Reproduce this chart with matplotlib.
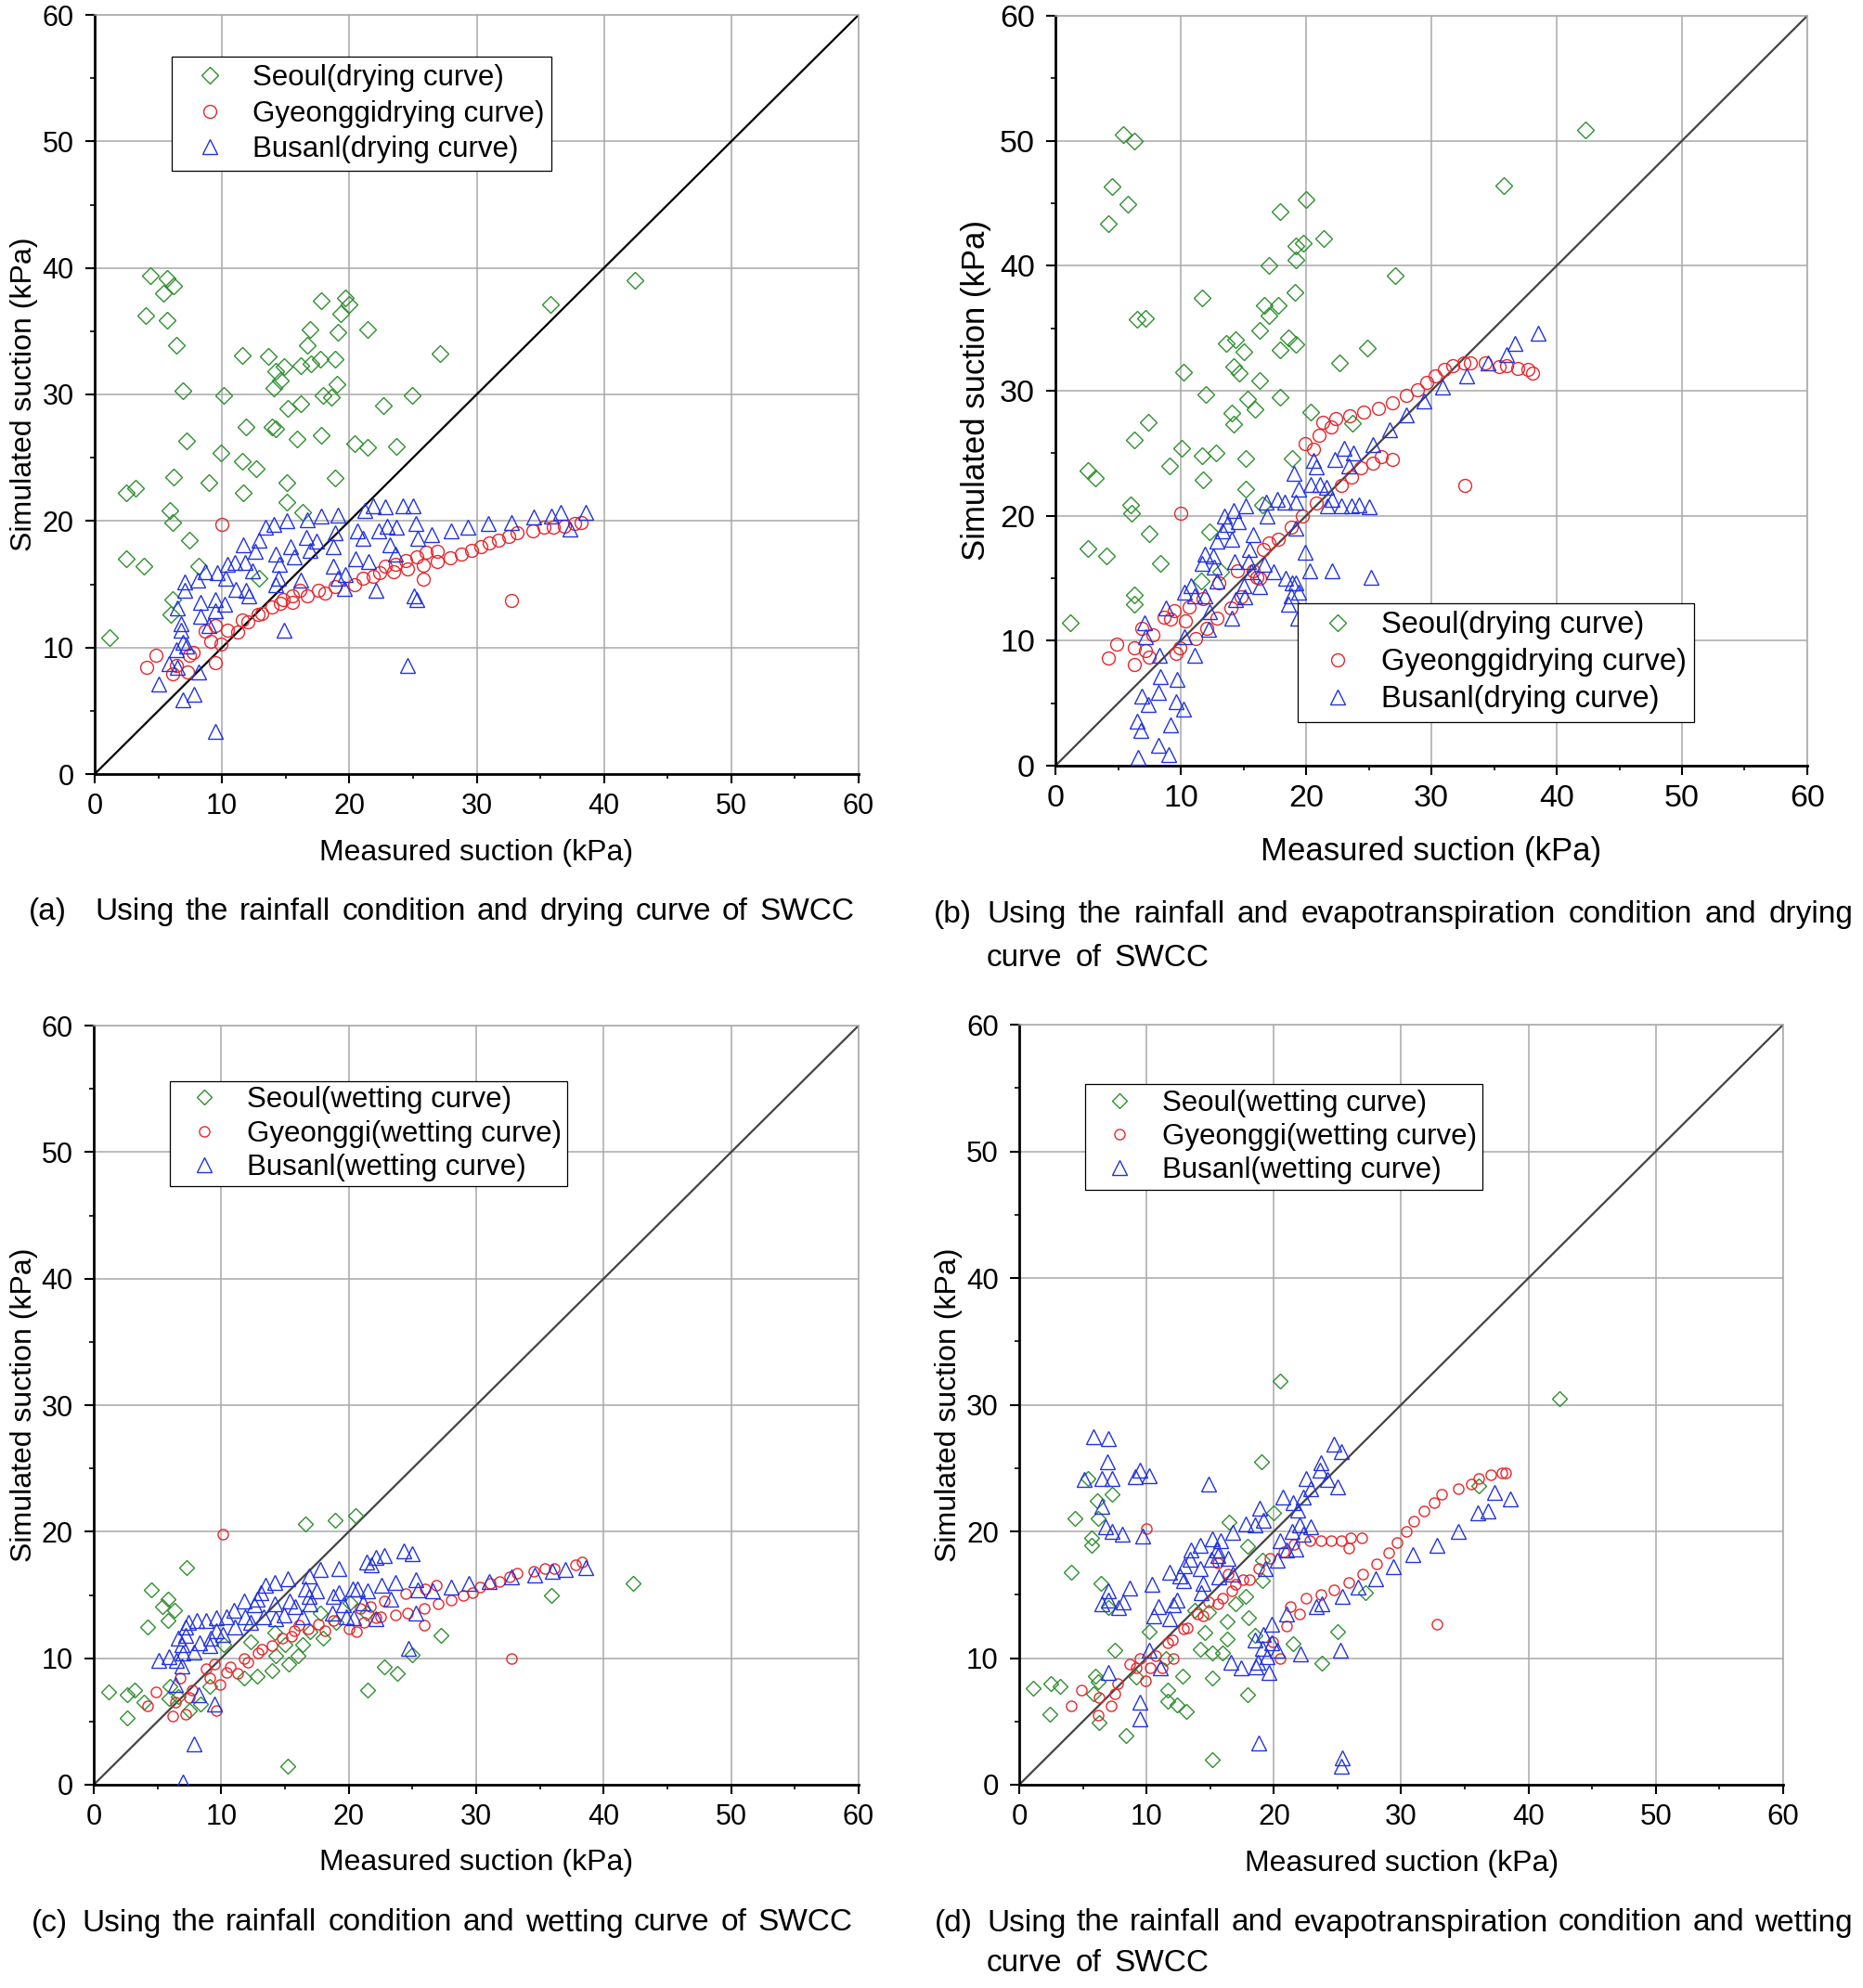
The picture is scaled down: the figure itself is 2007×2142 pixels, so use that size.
import numpy as np
import matplotlib
matplotlib.use('Agg')
import matplotlib.pyplot as plt
from matplotlib.ticker import MultipleLocator

plt.rcParams['font.family'] = ['Liberation Sans', 'DejaVu Sans']

# ---- data (measured, simulated) in kPa ----
seoul_a = np.array([
    (4.4, 39.4), (5.7, 39.2), (6.2, 38.6), (5.4, 38.0), (4.0, 36.2), (5.7, 35.9), (6.4, 33.9),
    (11.6, 33.1), (13.6, 33.0), (17.8, 37.4), (19.7, 37.6), (20.0, 37.1), (19.3, 36.4), (16.9, 35.1),
    (19.1, 34.9), (21.4, 35.1), (16.7, 33.9), (27.1, 33.2), (35.8, 37.1), (42.4, 39.0), (14.9, 32.2),
    (14.2, 31.8), (16.2, 32.3), (17.0, 32.4), (17.7, 32.8), (18.9, 32.8), (14.6, 31.1), (14.1, 30.5),
    (19.0, 30.8), (6.9, 30.3), (10.1, 29.9), (17.9, 29.9), (18.6, 29.8), (24.9, 29.9), (22.7, 29.1),
    (15.2, 28.9), (16.2, 29.3), (11.9, 27.4), (13.9, 27.4), (14.2, 27.3), (7.2, 26.3), (15.9, 26.5),
    (17.8, 26.8), (20.4, 26.1), (21.4, 25.8), (23.7, 25.9), (9.9, 25.4), (11.6, 24.7), (12.7, 24.1),
    (6.2, 23.5), (9.0, 23.0), (2.5, 22.2), (3.2, 22.6), (11.7, 22.2), (15.1, 23.0), (15.1, 21.5),
    (18.9, 23.4), (5.9, 20.8), (6.1, 19.9), (16.3, 20.7), (7.4, 18.5), (2.5, 17.0), (3.9, 16.4),
    (8.2, 16.4), (12.9, 15.5), (6.1, 13.8), (6.0, 12.6), (1.2, 10.8)])

gyeonggi_a = np.array([
    (10.0, 19.7), (4.1, 8.4), (4.8, 9.4), (6.1, 7.9), (6.4, 8.6), (7.3, 8.1), (7.4, 9.4), (7.7, 9.6),
    (9.5, 8.8), (8.7, 11.3), (9.1, 10.5), (9.5, 11.7), (9.9, 10.3), (10.4, 11.4), (11.2, 11.2),
    (11.6, 12.2), (12.0, 12.0), (12.8, 12.6), (13.1, 12.7), (13.9, 13.2), (14.6, 13.5), (14.8, 13.8),
    (15.5, 14.1), (15.5, 13.6), (16.1, 14.5), (16.7, 14.1), (17.6, 14.5), (18.1, 14.3), (18.9, 14.8),
    (20.4, 15.0), (21.1, 15.5), (21.9, 15.6), (22.4, 15.9), (22.8, 16.4), (23.5, 16.0), (23.6, 16.6),
    (24.4, 16.9), (24.6, 16.2), (25.3, 17.2), (25.8, 16.5), (25.8, 15.4), (26.0, 17.5), (26.9, 16.8),
    (26.9, 17.6), (27.9, 17.1), (28.8, 17.4), (29.6, 17.7), (30.3, 18.0), (31.0, 18.3), (31.7, 18.5),
    (32.5, 18.8), (33.2, 19.1), (32.7, 13.7), (34.4, 19.2), (35.3, 19.5), (36.0, 19.5), (36.9, 19.6),
    (37.7, 19.8), (38.2, 19.9)])

busan_a = np.array([
    (9.5, 3.4), (5.0, 7.1), (6.9, 5.9), (7.8, 6.3), (5.8, 8.7), (6.5, 8.4), (8.2, 8.1), (6.4, 9.8),
    (6.9, 10.4), (7.2, 10.1), (6.8, 11.4), (6.8, 11.9), (9.0, 11.7), (6.5, 13.1), (8.3, 12.5),
    (9.5, 12.9), (8.3, 13.6), (9.5, 13.8), (10.2, 13.4), (7.1, 14.5), (7.1, 15.2), (8.1, 15.3),
    (8.7, 16.0), (9.6, 15.9), (10.3, 15.5), (10.4, 16.6), (11.1, 14.6), (11.0, 16.7), (11.8, 16.7),
    (11.7, 18.1), (12.4, 16.1), (12.6, 17.6), (12.1, 14.1), (11.9, 14.5), (12.9, 18.5), (13.4, 19.5),
    (14.1, 19.7), (15.1, 20.0), (14.2, 17.4), (14.5, 16.6), (14.4, 15.5), (14.2, 15.0), (14.9, 11.4),
    (15.4, 18.0), (15.7, 17.2), (16.2, 15.3), (16.6, 18.7), (16.7, 20.1), (17.4, 18.4), (17.8, 20.4),
    (16.9, 17.7), (18.7, 18.0), (18.9, 19.1), (19.1, 20.5), (18.7, 16.4), (19.1, 15.5), (19.6, 14.7),
    (19.7, 15.8), (20.5, 17.0), (20.6, 19.2), (21.1, 18.6), (21.2, 20.8), (21.9, 21.2), (22.8, 21.1),
    (22.3, 19.2), (23.0, 19.6), (23.7, 19.5), (23.2, 18.1), (23.6, 17.4), (24.2, 21.2), (25.0, 21.2),
    (25.2, 19.8), (25.4, 18.6), (26.5, 18.9), (22.1, 14.5), (25.1, 14.1), (25.3, 13.8), (24.6, 8.6),
    (28.0, 19.2), (29.3, 19.5), (30.9, 19.8), (32.7, 19.9), (34.5, 20.3), (35.9, 20.4), (36.6, 20.7),
    (37.3, 19.4), (38.6, 20.7), (21.5, 16.8)])

seoul_b = np.array([
    (5.4, 50.5), (6.3, 50.0), (4.5, 46.3), (5.8, 44.9), (4.2, 43.4), (35.8, 46.4), (42.3, 50.9),
    (20.0, 45.3), (17.9, 44.3), (21.4, 42.2), (19.2, 41.6), (19.8, 41.8), (19.2, 40.5), (17.0, 40.0),
    (27.1, 39.2), (11.7, 37.4), (19.1, 37.9), (16.7, 36.8), (17.8, 36.8), (17.0, 36.0), (6.5, 35.7),
    (7.2, 35.8), (16.3, 34.8), (13.6, 33.8), (14.4, 34.1), (15.0, 33.1), (18.6, 34.2), (19.2, 33.7),
    (17.9, 33.3), (24.9, 33.4), (22.7, 32.2), (10.2, 31.5), (14.2, 31.9), (14.7, 31.4), (16.3, 30.8),
    (12.0, 29.7), (15.3, 29.3), (15.9, 28.5), (17.9, 29.5), (20.4, 28.3), (14.1, 28.2), (14.2, 27.3),
    (23.7, 27.4), (7.4, 27.5), (6.3, 26.1), (10.1, 25.4), (11.7, 24.8), (12.8, 25.0), (9.1, 24.0),
    (15.2, 24.6), (18.9, 24.6), (2.6, 23.6), (3.2, 23.0), (11.8, 22.9), (15.2, 22.1), (6.0, 20.9),
    (6.1, 20.2), (16.5, 20.9), (7.5, 18.6), (12.3, 18.7), (2.6, 17.4), (4.1, 16.8), (8.4, 16.2),
    (13.2, 15.5), (11.6, 14.8), (6.3, 13.7), (6.3, 12.9), (1.2, 11.4)])

gyeonggi_b = np.array([
    (10.0, 20.2), (4.2, 8.6), (4.9, 9.7), (6.3, 9.4), (6.3, 8.1), (7.2, 9.2), (7.5, 8.7), (7.8, 10.5),
    (6.9, 11.0), (8.7, 11.9), (9.2, 11.7), (9.5, 12.4), (9.6, 9.0), (9.9, 9.4), (10.4, 11.6),
    (10.7, 12.7), (11.2, 10.2), (11.8, 13.4), (12.1, 11.0), (12.9, 11.8), (13.0, 14.6), (14.0, 12.6),
    (14.5, 15.6), (14.8, 13.5), (15.8, 15.6), (16.1, 15.1), (16.3, 15.0), (16.6, 17.3), (17.0, 17.8),
    (17.8, 18.1), (18.8, 19.1), (19.7, 20.0), (20.8, 21.0), (19.9, 25.8), (20.6, 25.3), (21.0, 26.4),
    (21.3, 27.5), (22.0, 27.1), (22.4, 27.8), (23.5, 28.0), (24.6, 28.3), (25.8, 28.6), (26.9, 29.0),
    (28.0, 29.6), (28.9, 30.1), (29.6, 30.7), (30.3, 31.2), (31.0, 31.7), (31.7, 32.0), (32.6, 32.2),
    (33.1, 32.2), (34.3, 32.2), (35.4, 31.9), (36.0, 32.0), (36.9, 31.8), (37.7, 31.7), (38.1, 31.4),
    (32.7, 22.4), (22.8, 22.4), (23.6, 23.1), (24.4, 23.8), (25.3, 24.2), (26.0, 24.7), (26.9, 24.5)])

busan_b = np.array([
    (6.6, 0.7), (8.2, 1.6), (9.0, 0.9), (6.8, 2.8), (6.5, 3.6), (9.2, 3.3), (6.9, 5.6), (7.4, 4.9),
    (8.2, 5.9), (8.4, 7.1), (9.7, 6.9), (9.6, 5.1), (10.2, 4.5), (7.2, 10.3), (7.1, 11.4), (8.3, 8.8),
    (8.8, 12.6), (11.1, 8.8), (10.3, 10.3), (10.3, 13.9), (10.8, 14.4), (11.1, 13.6), (11.9, 13.6),
    (12.2, 10.9), (12.3, 12.3), (11.9, 16.9), (11.7, 16.2), (12.6, 16.8), (12.7, 15.9), (12.9, 14.8),
    (12.9, 18.0), (13.3, 18.8), (13.5, 20.0), (13.7, 19.3), (14.1, 18.1), (14.2, 20.4), (14.6, 19.5),
    (15.2, 20.8), (14.1, 11.8), (14.4, 13.3), (15.1, 13.5), (15.0, 14.4), (14.3, 16.3), (15.5, 17.3),
    (15.4, 16.3), (15.8, 18.5), (15.6, 15.5), (16.3, 14.3), (16.7, 16.1), (16.9, 20.0), (16.8, 21.1),
    (17.4, 15.5), (17.7, 21.3), (18.3, 21.1), (18.4, 15.0), (18.6, 12.9), (18.8, 13.6), (18.9, 14.6),
    (19.2, 14.6), (19.4, 13.9), (19.3, 11.8), (19.0, 23.4), (19.2, 21.1), (19.4, 22.1), (19.2, 19.0),
    (19.9, 17.1), (20.3, 15.6), (20.6, 24.4), (20.8, 23.9), (20.4, 22.5), (21.1, 22.5), (21.6, 22.3),
    (22.1, 21.3), (22.1, 15.6), (22.3, 24.5), (23.0, 25.4), (23.4, 24.0), (23.8, 25.0), (25.3, 25.7),
    (25.2, 15.1), (22.8, 20.8), (23.6, 20.8), (24.2, 20.9), (25.0, 20.7), (21.7, 20.8), (26.7, 26.9),
    (28.0, 28.1), (29.4, 29.2), (30.9, 30.3), (32.8, 31.2), (34.5, 32.2), (36.0, 32.9), (36.7, 33.8),
    (38.5, 34.6)])

seoul_c = np.array([
    (16.6, 20.6), (18.9, 20.9), (20.5, 21.3), (7.3, 17.2), (4.5, 15.4), (5.8, 14.7), (5.4, 14.1),
    (6.3, 13.8), (5.8, 13.0), (4.2, 12.5), (1.2, 7.3), (2.6, 7.1), (3.2, 7.5), (2.6, 5.3), (3.9, 6.5),
    (6.0, 7.8), (5.9, 6.8), (7.5, 5.9), (8.4, 6.4), (9.1, 7.8), (6.6, 7.0), (10.2, 11.1), (12.3, 11.3),
    (11.8, 8.4), (12.8, 8.6), (14.0, 9.0), (14.3, 10.2), (15.3, 9.5), (16.0, 10.2), (16.4, 11.1),
    (14.2, 12.0), (15.0, 11.1), (18.0, 11.6), (17.8, 13.6), (19.0, 12.8), (20.1, 14.4), (17.0, 12.1),
    (27.2, 11.8), (25.0, 10.3), (22.8, 9.3), (23.8, 8.8), (21.5, 7.5), (15.2, 1.5), (35.9, 15.0),
    (42.3, 15.9), (21.4, 13.6)])

gyeonggi_c = np.array([
    (10.1, 19.8), (32.8, 10.0), (4.2, 6.2), (4.9, 7.3), (6.2, 5.4), (7.2, 5.6), (6.8, 8.4), (6.4, 6.5),
    (7.5, 6.9), (7.7, 7.5), (8.8, 9.2), (9.1, 8.4), (9.5, 9.5), (9.6, 5.9), (9.9, 7.9), (10.4, 8.9),
    (10.7, 9.3), (11.3, 8.8), (11.8, 10.0), (12.1, 9.7), (12.9, 10.4), (13.2, 10.7), (14.0, 11.0),
    (14.8, 11.6), (15.5, 11.7), (15.7, 12.2), (16.1, 12.6), (16.8, 12.3), (17.6, 12.7), (18.1, 12.2),
    (18.8, 13.0), (20.0, 12.3), (20.6, 12.1), (21.2, 12.8), (22.1, 13.2), (22.5, 13.3), (23.7, 13.4),
    (24.6, 13.6), (25.9, 12.6), (25.9, 13.9), (27.0, 14.3), (28.0, 14.6), (29.0, 15.0), (29.7, 15.2),
    (30.3, 15.6), (31.1, 15.9), (31.8, 16.1), (32.6, 16.4), (33.2, 16.7), (34.5, 16.9), (35.4, 17.1),
    (36.1, 17.1), (37.8, 17.4), (38.3, 17.6), (24.5, 15.1), (26.0, 15.5), (26.9, 15.8), (20.9, 13.9),
    (21.7, 14.1), (22.8, 14.5)])

busan_c = np.array([
    (7.0, 0.2), (7.9, 3.2), (6.4, 7.9), (8.2, 7.1), (9.5, 6.4), (5.1, 9.8), (5.9, 10.1), (6.5, 9.8),
    (6.9, 9.4), (7.0, 10.4), (6.9, 11.1), (6.6, 11.6), (7.2, 11.8), (7.2, 12.5), (7.4, 12.8),
    (8.1, 13.0), (7.9, 10.5), (8.3, 11.2), (9.1, 11.0), (9.2, 11.6), (9.6, 12.2), (9.6, 13.2),
    (10.4, 13.3), (10.1, 11.9), (11.0, 13.8), (11.1, 12.5), (8.8, 13.0), (11.8, 14.5), (11.9, 13.3),
    (12.6, 14.2), (12.8, 14.7), (13.1, 15.2), (13.5, 15.8), (14.2, 16.0), (15.2, 16.3), (12.3, 12.8),
    (13.3, 13.3), (14.2, 14.3), (14.3, 13.1), (14.9, 13.4), (15.4, 14.5), (15.8, 14.1), (16.4, 13.3),
    (17.0, 14.3), (16.9, 14.9), (16.6, 15.5), (17.5, 15.3), (16.9, 16.5), (17.8, 17.0), (18.8, 14.9),
    (18.7, 13.6), (19.2, 17.1), (19.2, 15.2), (19.6, 14.2), (19.8, 13.3), (20.4, 13.2), (20.3, 15.5),
    (20.7, 15.5), (21.1, 14.4), (21.4, 17.6), (21.8, 17.4), (22.1, 18.0), (22.8, 18.1), (24.3, 18.5),
    (25.0, 18.3), (21.5, 15.3), (22.1, 13.1), (22.6, 15.8), (23.3, 14.7), (23.7, 16.0), (24.7, 10.8),
    (25.3, 16.2), (25.4, 15.4), (25.3, 13.6), (26.6, 15.3), (28.0, 15.6), (29.4, 15.9), (31.0, 16.1),
    (32.8, 16.4), (34.6, 16.6), (36.0, 16.9), (37.0, 17.0), (38.6, 17.2)])

seoul_d = np.array([
    (20.5, 31.9), (42.4, 30.5), (19.0, 25.5), (5.4, 24.2), (7.3, 22.9), (6.1, 22.4), (4.4, 21.0),
    (6.2, 21.0), (5.7, 19.5), (5.7, 18.9), (16.5, 20.7), (20.0, 21.5), (17.9, 18.8), (4.1, 16.8),
    (6.4, 15.9), (19.1, 16.1), (17.8, 14.9), (17.0, 14.3), (14.9, 13.6), (16.3, 12.9), (18.0, 13.2),
    (14.6, 12.0), (16.3, 11.5), (14.2, 10.7), (15.2, 10.4), (16.0, 10.4), (10.2, 12.1), (7.5, 10.6),
    (7.0, 14.0), (18.5, 11.8), (21.5, 11.1), (23.8, 9.6), (25.0, 12.1), (27.2, 15.2), (36.1, 23.6),
    (6.0, 8.6), (6.2, 8.1), (5.8, 7.2), (1.1, 7.6), (2.5, 8.0), (3.2, 7.8), (2.4, 5.6), (6.3, 4.9),
    (8.4, 3.9), (9.2, 8.5), (12.8, 8.6), (11.7, 7.5), (11.7, 6.6), (12.4, 6.3), (13.1, 5.8),
    (15.2, 8.4), (17.9, 7.1), (15.2, 2.0), (11.5, 10.0), (13.8, 13.8), (19.1, 17.7)])

gyeonggi_d = np.array([
    (10.0, 20.2), (32.8, 12.7), (4.1, 6.2), (4.9, 7.5), (6.2, 5.5), (6.3, 6.9), (7.2, 6.2), (7.5, 7.2),
    (7.7, 8.0), (8.7, 9.5), (9.2, 9.2), (9.5, 10.0), (9.9, 8.2), (10.3, 9.2), (10.7, 10.2), (11.2, 9.2),
    (12.1, 10.0), (11.7, 11.2), (12.0, 11.4), (12.9, 12.3), (13.2, 12.4), (14.0, 13.5), (14.4, 13.3),
    (14.9, 14.4), (15.6, 14.3), (16.0, 14.7), (16.7, 15.3), (17.0, 15.8), (17.6, 16.2), (18.1, 16.2),
    (15.6, 17.5), (16.4, 16.6), (18.8, 17.1), (19.7, 17.9), (20.8, 18.4), (21.6, 19.0), (22.8, 19.3),
    (23.7, 19.3), (24.5, 19.3), (25.3, 19.3), (26.0, 19.5), (25.9, 18.7), (26.9, 19.5), (19.9, 11.3),
    (20.5, 10.0), (21.0, 12.5), (22.0, 13.5), (21.3, 14.1), (22.5, 14.7), (23.7, 15.0), (24.7, 15.4),
    (25.9, 16.0), (27.0, 16.6), (28.1, 17.4), (29.0, 18.3), (29.7, 19.1), (30.4, 20.0), (31.0, 20.8),
    (31.8, 21.6), (32.6, 22.3), (33.2, 22.9), (34.5, 23.4), (35.5, 23.7), (36.1, 24.2), (37.0, 24.5),
    (37.9, 24.6), (38.2, 24.6)])

busan_d = np.array([
    (5.8, 27.5), (7.0, 27.3), (6.9, 25.5), (5.1, 24.1), (6.5, 24.2), (7.3, 24.2), (9.1, 24.3),
    (9.5, 24.8), (10.2, 24.4), (14.9, 23.7), (6.5, 22.0), (6.8, 20.4), (7.3, 20.0), (8.1, 19.8),
    (9.7, 19.6), (7.0, 15.3), (6.5, 14.3), (7.0, 14.6), (7.8, 14.0), (8.2, 14.4), (8.7, 15.5),
    (10.4, 15.8), (7.0, 8.9), (9.5, 6.5), (9.5, 5.2), (10.2, 10.6), (11.1, 9.2), (10.6, 13.3),
    (10.9, 14.1), (11.8, 13.1), (12.1, 14.2), (12.4, 14.6), (11.8, 16.8), (12.6, 16.5), (12.9, 16.1),
    (13.0, 17.3), (13.4, 17.8), (13.5, 18.5), (14.2, 18.9), (14.2, 17.1), (14.4, 15.9), (14.3, 15.2),
    (15.2, 19.4), (15.8, 19.3), (15.5, 18.5), (15.6, 18.1), (15.1, 17.8), (16.4, 17.9), (15.7, 16.4),
    (16.8, 16.6), (16.8, 19.9), (17.8, 20.6), (18.5, 20.5), (19.3, 17.1), (18.9, 21.8), (19.2, 20.9),
    (20.7, 22.7), (21.5, 22.3), (21.9, 21.7), (21.4, 20.0), (22.0, 20.5), (22.9, 20.4), (22.3, 19.8),
    (20.5, 19.3), (21.0, 18.5), (21.7, 18.6), (20.3, 17.7), (22.5, 24.2), (23.7, 25.4), (23.6, 24.8),
    (24.7, 26.9), (25.3, 26.3), (24.2, 24.1), (25.0, 23.5), (22.9, 23.4), (22.3, 22.7), (19.8, 12.7),
    (19.2, 11.9), (18.5, 11.4), (19.1, 10.8), (19.8, 11.2), (20.3, 10.6), (19.5, 10.1), (18.7, 9.7),
    (18.6, 9.3), (16.6, 9.7), (17.4, 9.2), (19.6, 8.9), (22.1, 10.3), (25.2, 10.6), (21.0, 13.5),
    (23.3, 14.1), (23.8, 14.3), (25.4, 14.9), (26.6, 15.6), (28.0, 16.3), (29.4, 17.2), (30.9, 18.2),
    (32.8, 18.9), (34.5, 20.0), (36.0, 21.5), (36.8, 21.6), (37.3, 23.1), (38.6, 22.6), (18.8, 3.3),
    (25.4, 2.1), (25.3, 1.5)])

labels_drying = ['Seoul(drying curve)', 'Gyeonggidrying curve)', 'Busanl(drying curve)']
labels_wetting = ['Seoul(wetting curve)', 'Gyeonggi(wetting curve)', 'Busanl(wetting curve)']

captions = {
    'a': ('(a)', 'Using the rainfall condition and drying curve of SWCC', None),
    'b': ('(b)', 'Using the rainfall and evapotranspiration condition and drying', 'curve of SWCC'),
    'c': ('(c)', 'Using the rainfall condition and wetting curve of SWCC', None),
    'd': ('(d)', 'Using the rainfall and evapotranspiration condition and wetting', 'curve of SWCC'),
}

GREEN = '#2f8f2f'
RED = '#e8262a'
BLUE = '#2233dd'

W, H = 2008, 2142
fig = plt.figure(figsize=(W / 100, H / 100), dpi=100)
fig.patch.set_facecolor('white')


def px_axes(l, t, r, b):
    return fig.add_axes([l / W, 1 - b / H, (r - l) / W, (b - t) / H])


def draw_panel(ax, series, labels, sizes, tick_fs, line_col, leg_xy, leg_fs, leg_pad):
    ax.set_xlim(0, 60)
    ax.set_ylim(0, 60)
    ax.xaxis.set_major_locator(MultipleLocator(10))
    ax.yaxis.set_major_locator(MultipleLocator(10))
    ax.xaxis.set_minor_locator(MultipleLocator(5))
    ax.yaxis.set_minor_locator(MultipleLocator(5))
    ax.grid(True, which='major', color='#a8a8a8', linewidth=1.1)
    ax.set_axisbelow(True)
    for s in ['top', 'right']:
        ax.spines[s].set_color('#a8a8a8')
        ax.spines[s].set_linewidth(1.1)
    for s in ['left', 'bottom']:
        ax.spines[s].set_color('black')
        ax.spines[s].set_linewidth(2.0)
    ax.tick_params(which='major', direction='out', length=7.5, width=1.5, labelsize=tick_fs)
    ax.tick_params(which='minor', direction='out', length=3.5, width=1.2)
    ax.tick_params(axis='x', pad=7)
    ax.tick_params(axis='y', pad=8.5)
    ax.tick_params(top=False, right=False, which='both')

    ax.plot([0, 60], [0, 60], color=line_col, linewidth=1.6, zorder=2)

    markers = ['D', 'o', '^']
    colors = [GREEN, RED, BLUE]
    for data, lab, mk, col, ms in zip(series, labels, markers, colors, sizes):
        ax.plot(data[:, 0], data[:, 1], linestyle='none', marker=mk, mfc='none', mec=col,
                ms=ms, mew=1.0, label=lab, zorder=3)

    bpad, lspace, hlen, tpad = leg_pad
    leg = ax.legend(loc='upper left', bbox_to_anchor=leg_xy, borderaxespad=0, fontsize=leg_fs,
                    frameon=True, fancybox=False, framealpha=1, edgecolor='black',
                    borderpad=bpad, labelspacing=lspace, handlelength=hlen, handletextpad=tpad,
                    numpoints=1)
    leg.get_frame().set_linewidth(0.9)


def place_words(words, x0, y, fs, x1=None, gap=None):
    renderer = fig.canvas.get_renderer()
    texts = [fig.text(0, 0, w, fontsize=fs, ha='left', va='center') for w in words]
    widths = [t.get_window_extent(renderer).width for t in texts]
    if x1 is not None:
        gap = (x1 - x0 - sum(widths)) / (len(words) - 1)
    x = x0
    for t, w in zip(texts, widths):
        t.set_position((x / W, 1 - y / H))
        x += w + gap


def caption(key, tag_x, x0, x1, y1, y2, fs):
    tag, line1, line2 = captions[key]
    fig.text(tag_x / W, 1 - y1 / H, tag, fontsize=fs, ha='left', va='center')
    place_words(line1.split(), x0, y1, fs, x1=x1)
    if line2:
        place_words(line2.split(), x0, y2, fs, gap=14)


# panel boxes in pixels (left, top, right, bottom)
ax_a = px_axes(102, 16, 925, 834)
ax_b = px_axes(1137, 17, 1947, 825)
ax_c = px_axes(101, 1105, 925, 1923)
ax_d = px_axes(1098, 1104, 1921, 1923)

pad_dry = (0.25, 0.28, 2.14, 0.38)
pad_wet = (0.18, 0.2, 2.03, 0.44)

draw_panel(ax_a, [seoul_a, gyeonggi_a, busan_a], labels_drying, [8.8, 10.0, 11.5], 22,
           'black', (0.101, 0.945), 22.5, pad_dry)
draw_panel(ax_b, [seoul_b, gyeonggi_b, busan_b], labels_drying, [8.8, 10.0, 11.5], 24.5,
           '#444444', (0.322, 0.2166), 23.5, pad_dry)
draw_panel(ax_c, [seoul_c, gyeonggi_c, busan_c], labels_wetting, [8.6, 8.0, 11.0], 22,
           '#444444', (0.0996, 0.927), 22.5, pad_wet)
draw_panel(ax_d, [seoul_d, gyeonggi_d, busan_d], labels_wetting, [8.6, 8.0, 11.0], 22.5,
           '#444444', (0.0864, 0.922), 22.5, pad_wet)

# axis titles
fig.text(513 / W, 1 - 919 / H, 'Measured suction (kPa)', fontsize=23, ha='center', va='center')
fig.text(26 / W, 1 - 425 / H, 'Simulated suction (kPa)', fontsize=23, ha='center', va='center', rotation=90)
fig.text(1542 / W, 1 - 917 / H, 'Measured suction (kPa)', fontsize=25, ha='center', va='center')
fig.text(1052 / W, 1 - 421 / H, 'Simulated suction (kPa)', fontsize=25, ha='center', va='center', rotation=90)
fig.text(513 / W, 1 - 2007 / H, 'Measured suction (kPa)', fontsize=23, ha='center', va='center')
fig.text(26 / W, 1 - 1514 / H, 'Simulated suction (kPa)', fontsize=23, ha='center', va='center', rotation=90)
fig.text(1510 / W, 1 - 2008 / H, 'Measured suction (kPa)', fontsize=23, ha='center', va='center')
fig.text(1022 / W, 1 - 1514 / H, 'Simulated suction (kPa)', fontsize=23, ha='center', va='center', rotation=90)

# captions under each panel
caption('a', 31, 102, 920, 983, None, 24)
caption('b', 1006, 1063, 1996, 986, 1032, 24)
caption('c', 34, 88, 918, 2072, None, 24)
caption('d', 1007, 1063, 1996, 2072, 2116, 24)

fig.savefig('out.png', dpi=100, facecolor='white')
